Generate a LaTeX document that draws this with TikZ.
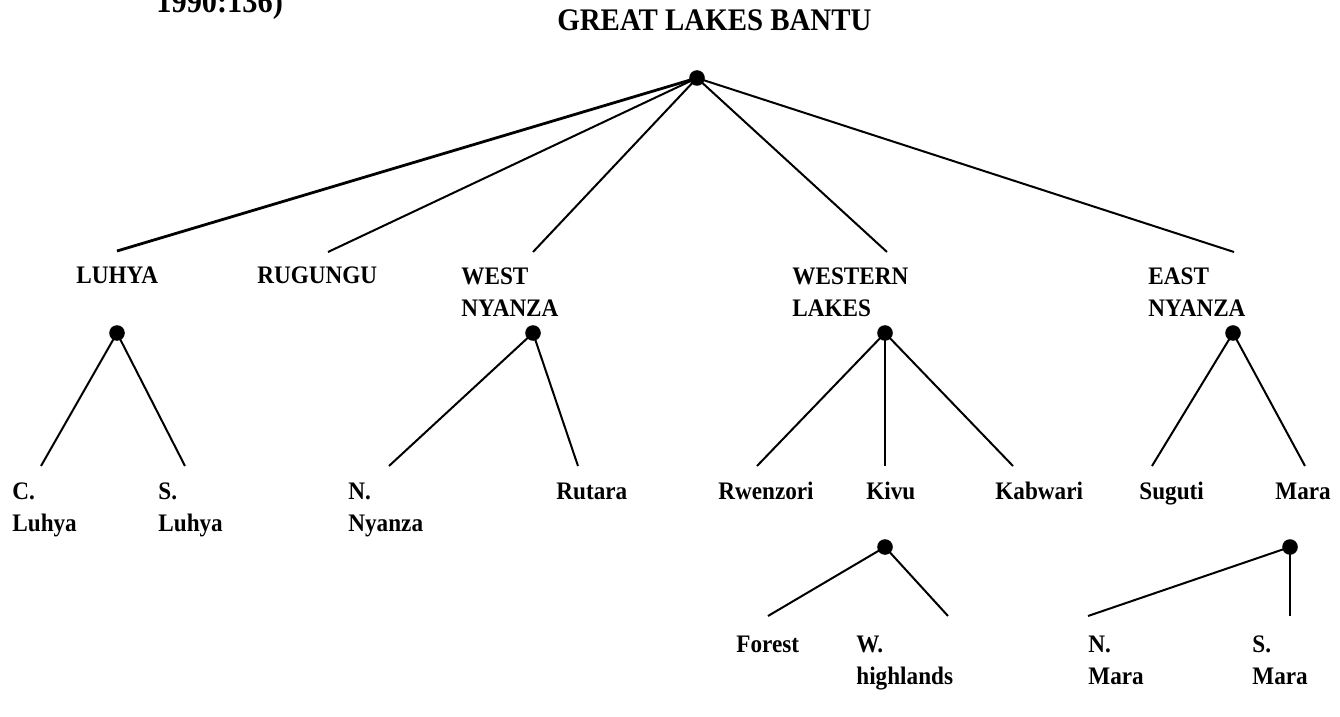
\documentclass[tikz,border=0pt]{standalone}
\usepackage{fontspec}
\setmainfont{Liberation Serif}[FakeStretch=0.92]
\begin{document}
\begin{tikzpicture}[x=0.5pt,y=-0.5pt,
  lbl/.style={anchor=base west, inner sep=0pt, align=left,
    font=\fontsize{12.6}{16}\selectfont\bfseries},
  titlelbl/.style={anchor=base west, inner sep=0pt,
    font=\fontsize{15.7}{19}\selectfont\bfseries},
  dot/.style={circle, fill=black, inner sep=0pt, minimum size=7.8pt},
  branch/.style={line width=1pt},
  heavybranch/.style={line width=1.4pt}]
\useasboundingbox (0,0) rectangle (1340,717);

% headings
\node[titlelbl, font=\fontsize{16.5}{20}\selectfont\bfseries] (src) at (156,13) {1990:136)};
\node[titlelbl] (title) at (557,31) {GREAT LAKES BANTU};

% level 1 labels (two-line labels are placed at the baseline of their last line)
\node[lbl] (luhya) at (76,284) {LUHYA};
\node[lbl] (rugungu) at (257,284) {RUGUNGU};
\node[lbl] (wny) at (461,316) {WEST\\NYANZA};
\node[lbl] (wl) at (792,316) {WESTERN\\LAKES};
\node[lbl] (eny) at (1148,316) {EAST\\NYANZA};

% level 2 labels
\node[lbl] (cluhya) at (12,531) {C.\\Luhya};
\node[lbl] (sluhya) at (158,531) {S.\\Luhya};
\node[lbl] (nnyanza) at (348,531) {N.\\Nyanza};
\node[lbl] (rutara) at (556,499) {Rutara};
\node[lbl] (rwenzori) at (718,499) {Rwenzori};
\node[lbl] (kivu) at (866,499) {Kivu};
\node[lbl] (kabwari) at (995,499) {Kabwari};
\node[lbl] (suguti) at (1139,499) {Suguti};
\node[lbl] (mara) at (1275,499) {Mara};

% level 3 labels
\node[lbl] (forest) at (736,652) {Forest};
\node[lbl] (whigh) at (856,684) {W.\\highlands};
\node[lbl] (nmara) at (1088,684) {N.\\Mara};
\node[lbl] (smara) at (1252,684) {S.\\Mara};

% branch ends
\coordinate (luhyaT) at (117,251);
\coordinate (rugunguT) at (328,252);
\coordinate (wnyT) at (533,252);
\coordinate (wlT) at (887,252);
\coordinate (enyT) at (1234,252);
\coordinate (cluhyaT) at (41,466);
\coordinate (sluhyaT) at (185,466);
\coordinate (nnyanzaT) at (389,466);
\coordinate (rutaraT) at (578,466);
\coordinate (rwenzoriT) at (757,466);
\coordinate (kivuT) at (885,466);
\coordinate (kabwariT) at (1013,466);
\coordinate (sugutiT) at (1152,466);
\coordinate (maraT) at (1305,466);
\coordinate (forestT) at (768,616);
\coordinate (whighT) at (948,616);
\coordinate (nmaraT) at (1088,616);
\coordinate (smaraT) at (1290,616);

% branching points
\node[dot] (root) at (697,78) {};
\node[dot] (luhyaD) at (117,333) {};
\node[dot] (wnyD) at (533,333) {};
\node[dot] (wlD) at (885,333) {};
\node[dot] (enyD) at (1233,333) {};
\node[dot] (kivuD) at (885,547) {};
\node[dot] (maraD) at (1290,547) {};

% connectors
\draw[heavybranch] (root.center) -- (luhyaT);
\draw[branch] (root.center) -- (rugunguT);
\draw[branch] (root.center) -- (wnyT);
\draw[branch] (root.center) -- (wlT);
\draw[branch] (root.center) -- (enyT);

\draw[branch] (luhyaD.center) -- (cluhyaT);
\draw[branch] (luhyaD.center) -- (sluhyaT);
\draw[branch] (wnyD.center) -- (nnyanzaT);
\draw[branch] (wnyD.center) -- (rutaraT);
\draw[branch] (wlD.center) -- (rwenzoriT);
\draw[branch] (wlD.center) -- (kivuT);
\draw[branch] (wlD.center) -- (kabwariT);
\draw[branch] (enyD.center) -- (sugutiT);
\draw[branch] (enyD.center) -- (maraT);

\draw[branch] (kivuD.center) -- (forestT);
\draw[branch] (kivuD.center) -- (whighT);
\draw[branch] (maraD.center) -- (nmaraT);
\draw[branch] (maraD.center) -- (smaraT);
\end{tikzpicture}
\end{document}
